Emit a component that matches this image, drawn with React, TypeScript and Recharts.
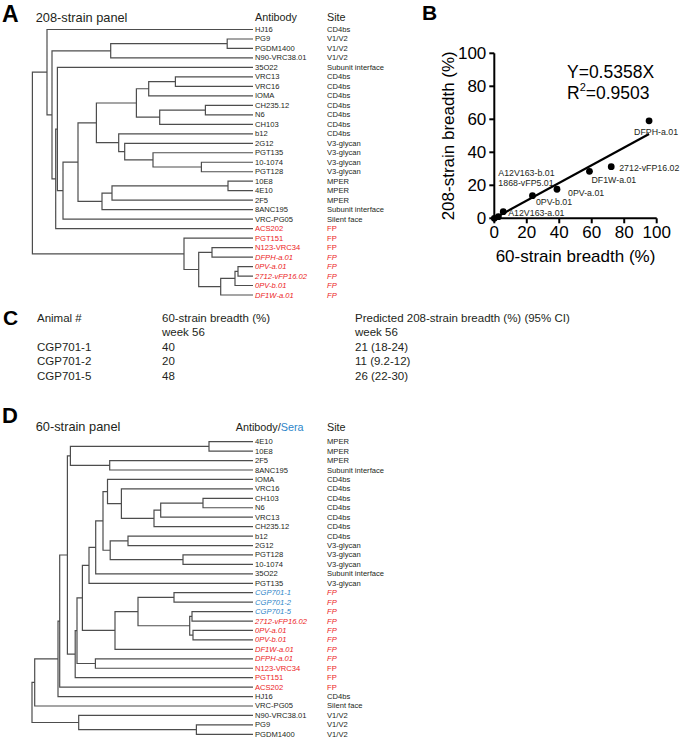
import React, { useMemo } from "react";
import { LineChart, Line, XAxis, YAxis, ScatterChart, Scatter } from "recharts";

const FONT = '"Liberation Sans", Arial, Helvetica, sans-serif';
const INK = "#231f20";
const RED = "#ec1c24";
const BLUE = "#2e86c9";
const BRANCH = "#4d4d4d";

// vaccine-elicited antibodies (italic) and sera (blue)
const vaccineAbs = ["DFPH-a.01", "0PV-a.01", "2712-vFP16.02", "0PV-b.01", "DF1W-a.01"];
const sera = ["CGP701-1", "CGP701-2", "CGP701-5"];

// ---- A: 208-strain panel, leaves top to bottom
const leavesA = [
  "HJ16", "PG9", "PGDM1400", "N90-VRC38.01", "35O22", "VRC13", "VRC16", "IOMA",
  "CH235.12", "N6", "CH103", "b12", "2G12", "PGT135", "10-1074", "PGT128",
  "10E8", "4E10", "2F5", "8ANC195", "VRC-PG05", "ACS202", "PGT151", "N123-VRC34",
  "DFPH-a.01", "0PV-a.01", "2712-vFP16.02", "0PV-b.01", "DF1W-a.01",
];
const sitesA = [
  "CD4bs", "V1/V2", "V1/V2", "V1/V2", "Subunit interface", "CD4bs", "CD4bs", "CD4bs",
  "CD4bs", "CD4bs", "CD4bs", "CD4bs", "V3-glycan", "V3-glycan", "V3-glycan", "V3-glycan",
  "MPER", "MPER", "MPER", "Subunit interface", "Silent face", "FP", "FP", "FP",
  "FP", "FP", "FP", "FP", "FP",
];
// [child, child, distance]; "m<k>" = k-th merge
const mergesA: [string, string, number][] = [
  ["PG9", "PGDM1400", 25.8],
  ["m0", "N90-VRC38.01", 142.3],
  ["VRC13", "VRC16", 77.6],
  ["m2", "IOMA", 104.3],
  ["CH235.12", "N6", 47.6],
  ["m4", "CH103", 93.3],
  ["m3", "m5", 116.6],
  ["10-1074", "PGT128", 51.6],
  ["PGT135", "m7", 100],
  ["2G12", "m8", 128.3],
  ["b12", "m9", 134.3],
  ["m6", "m10", 156.6],
  ["10E8", "4E10", 25],
  ["m12", "2F5", 141],
  ["m13", "8ANC195", 151],
  ["m11", "m14", 175],
  ["m15", "VRC-PG05", 190],
  ["35O22", "m16", 195.6],
  ["m17", "ACS202", 197.3],
  ["m1", "m18", 201],
  ["HJ16", "m19", 206],
  ["0PV-a.01", "2712-vFP16.02", 15],
  ["m21", "0PV-b.01", 18],
  ["m22", "DF1W-a.01", 32.3],
  ["N123-VRC34", "DFPH-a.01", 41],
  ["m24", "m23", 54.3],
  ["PGT151", "m25", 69],
  ["m20", "m26", 220.6],
];

// ---- D: 60-strain panel
const leavesD = [
  "4E10", "10E8", "2F5", "8ANC195", "IOMA", "VRC16", "CH103", "N6",
  "VRC13", "CH235.12", "b12", "2G12", "PGT128", "10-1074", "35O22", "PGT135",
  "CGP701-1", "CGP701-2", "CGP701-5", "2712-vFP16.02", "0PV-a.01", "0PV-b.01", "DF1W-a.01", "DFPH-a.01",
  "N123-VRC34", "PGT151", "ACS202", "HJ16", "VRC-PG05", "N90-VRC38.01", "PG9", "PGDM1400",
];
const sitesD = [
  "MPER", "MPER", "MPER", "Subunit interface", "CD4bs", "CD4bs", "CD4bs", "CD4bs",
  "CD4bs", "CD4bs", "CD4bs", "V3-glycan", "V3-glycan", "V3-glycan", "Subunit interface", "V3-glycan",
  "FP", "FP", "FP", "FP", "FP", "FP", "FP", "FP",
  "FP", "FP", "FP", "CD4bs", "Silent face", "V1/V2", "V1/V2", "V1/V2",
];
const mergesD: [string, string, number][] = [
  ["4E10", "10E8", 44],
  ["2F5", "8ANC195", 143.3],
  ["m0", "m1", 182.6],
  ["CH103", "N6", 50],
  ["m3", "VRC13", 92.3],
  ["m4", "CH235.12", 99],
  ["VRC16", "m5", 131.6],
  ["IOMA", "m6", 145.5],
  ["b12", "2G12", 125],
  ["PGT128", "10-1074", 70],
  ["m8", "m9", 142.8],
  ["m7", "m10", 150],
  ["m11", "35O22", 157.3],
  ["m12", "PGT135", 164],
  ["CGP701-1", "CGP701-2", 79],
  ["CGP701-5", "2712-vFP16.02", 61],
  ["0PV-a.01", "0PV-b.01", 60],
  ["m15", "m16", 63.3],
  ["m14", "m17", 115],
  ["m18", "DF1W-a.01", 138],
  ["m13", "m19", 170.6],
  ["DFPH-a.01", "N123-VRC34", 157.6],
  ["m20", "m21", 176],
  ["m22", "PGT151", 177.8],
  ["m2", "m23", 185.6],
  ["m24", "ACS202", 193.3],
  ["m25", "HJ16", 195],
  ["m26", "VRC-PG05", 218.3],
  ["PG9", "PGDM1400", 56.6],
  ["N90-VRC38.01", "m28", 174.3],
  ["m27", "m29", 221],
];

// ---- B: breadth correlation
const bnabNames = ["DFPH-a.01", "2712-vFP16.02", "DF1W-a.01", "0PV-a.01", "0PV-b.01", "A12V163-a.01", "A12V163-b.01", "1868-vFP5.01"];
const breadth60 = [95.3, 72, 58.6, 38.6, 23.5, 5.5, 0, 2.5];
const breadth208 = [59.1, 31.3, 28.5, 17.6, 13.7, 4, 0, 1];
const fitSlope = 0.5358;
const fitR2 = 0.9503;
const breadthTicks = [0, 20, 40, 60, 80, 100];

// ---- C: table
const animals = ["CGP701-1", "CGP701-2", "CGP701-5"];
const sera60 = [40, 20, 48];
const pred208 = [21, 11, 26];
const predLow = [18, 9.2, 22];
const predHigh = [24, 12, 30];

// label offsets (px) from each point in B
const labelOffset: Record<string, [number, number]> = {
  "DFPH-a.01": [-15, 11],
  "2712-vFP16.02": [8, 1.6],
  "DF1W-a.01": [2, 8.7],
  "0PV-a.01": [11, 4],
  "0PV-b.01": [3.5, 6],
  "A12V163-a.01": [5, 1.6],
  "A12V163-b.01": [4, -45],
  "1868-vFP5.01": [0, -33.4],
};

function treeSegments(leaves: string[], merges: [string, string, number][]) {
  const pos: Record<string, { x: number; y: number }> = {};
  leaves.forEach((n, i) => (pos[n] = { x: 0, y: i }));
  const pts: { x: number; y: number | null }[] = [];
  merges.forEach(([a, b, h], k) => {
    const pa = pos[a];
    const pb = pos[b];
    pts.push({ x: pa.x, y: pa.y }, { x: h, y: pa.y }, { x: h, y: pb.y }, { x: pb.x, y: pb.y }, { x: h, y: null });
    pos["m" + k] = { x: h, y: (pa.y + pb.y) / 2 };
  });
  return pts;
}

const LeafTick = (props: any) => {
  const { x, y, payload, leaves, sites } = props;
  const name = leaves[payload.value];
  const site = sites[payload.value];
  const isSera = sera.includes(name);
  const italic = isSera || vaccineAbs.includes(name);
  const fp = site === "FP";
  return (
    <g fontFamily={FONT} fontSize={7.6} fontStyle={italic ? "italic" : "normal"}>
      <text x={x} y={y} dominantBaseline="central" fill={isSera ? BLUE : fp ? RED : INK}>
        {name}
      </text>
      <text x={x + 72} y={y} dominantBaseline="central" fill={fp ? RED : INK}>
        {site}
      </text>
    </g>
  );
};

function Dendrogram({ leaves, sites, merges, height, top, bottom }: any) {
  const data = useMemo(() => treeSegments(leaves, merges), [leaves, merges]);
  const ticks = leaves.map((_: string, i: number) => i);
  return (
    <LineChart width={400} height={height} data={data} margin={{ top, right: 0, bottom, left: 30 }}>
      <XAxis type="number" dataKey="x" domain={[0, 223]} reversed hide />
      <YAxis
        type="number"
        orientation="right"
        domain={[0, leaves.length - 1]}
        reversed
        ticks={ticks}
        interval={0}
        width={147}
        axisLine={false}
        tickLine={false}
        tickSize={0}
        tickMargin={2}
        tick={(p: any) => <LeafTick {...p} leaves={leaves} sites={sites} />}
      />
      <Line
        dataKey="y"
        stroke={BRANCH}
        strokeWidth={1.2}
        dot={false}
        activeDot={false}
        connectNulls={false}
        isAnimationActive={false}
      />
    </LineChart>
  );
}

const PointShape = (props: any) => {
  const { cx, cy, payload } = props;
  const off = labelOffset[payload.name] || [5, 0];
  return (
    <g>
      <circle cx={cx} cy={cy} r={3.4} fill="#000" />
      <text x={cx + off[0]} y={cy + off[1]} dominantBaseline="central" fontSize={8.8} fontFamily={FONT} fill={INK}>
        {payload.name}
      </text>
    </g>
  );
};

function BreadthScatter() {
  const points = bnabNames.map((name, i) => ({ name, x: breadth60[i], y: breadth208[i] }));
  const maxX = Math.max(...breadth60);
  const fitLine = [0, maxX].map((x) => ({ x, y: fitSlope * x }));
  const axisStyle = { stroke: "#000", strokeWidth: 2 };
  const tickStyle = { fill: "#000", fontSize: 17, fontFamily: FONT };
  return (
    <ScatterChart width={280} height={250} margin={{ top: 23.3, right: 23.3, bottom: 0, left: 0 }}>
      <XAxis
        type="number"
        dataKey="x"
        domain={[0, 100]}
        ticks={breadthTicks}
        interval={0}
        height={61.7}
        tickSize={5}
        tickMargin={3}
        axisLine={axisStyle}
        tickLine={axisStyle}
        tick={tickStyle}
        label={(p: any) => (
          <text
            x={p.viewBox.x + p.viewBox.width / 2}
            y={p.viewBox.y + 38.4}
            textAnchor="middle"
            dominantBaseline="central"
            fontSize={17}
            fontFamily={FONT}
            fill="#000"
          >
            60-strain breadth (%)
          </text>
        )}
      />
      <YAxis
        type="number"
        dataKey="y"
        domain={[0, 100]}
        ticks={breadthTicks}
        interval={0}
        width={94.3}
        tickSize={5}
        tickMargin={3}
        axisLine={axisStyle}
        tickLine={axisStyle}
        tick={tickStyle}
        label={(p: any) => {
          const cx = p.viewBox.x + 48.3;
          const cy = p.viewBox.y + p.viewBox.height / 2;
          return (
            <text
              x={cx}
              y={cy}
              transform={`rotate(-90 ${cx} ${cy})`}
              textAnchor="middle"
              dominantBaseline="central"
              fontSize={17}
              fontFamily={FONT}
              fill="#000"
            >
              208-strain breadth (%)
            </text>
          );
        }}
      />
      <Scatter data={fitLine} line={{ stroke: "#000", strokeWidth: 2.2 }} shape={() => <g />} isAnimationActive={false} />
      <Scatter data={points} shape={PointShape} isAnimationActive={false} />
    </ScatterChart>
  );
}

export default function App() {
  const rowY = [346.5, 361, 375.5];
  return (
    <div style={{ position: "absolute", left: 0, top: 0, width: 680, height: 740, background: "#fff", fontFamily: FONT }}>
      <div style={{ position: "absolute", left: 0, top: 0 }}>
        <Dendrogram leaves={leavesA} sites={sitesA} merges={mergesA} height={305} top={29.5} bottom={10} />
      </div>
      <div style={{ position: "absolute", left: 0, top: 400 }}>
        <Dendrogram leaves={leavesD} sites={sitesD} merges={mergesD} height={340} top={41.7} bottom={5.7} />
      </div>
      <div style={{ position: "absolute", left: 400, top: 30 }}>
        <BreadthScatter />
      </div>
      <svg width={680} height={740} style={{ position: "absolute", left: 0, top: 0, pointerEvents: "none" }} fontFamily={FONT} fill={INK}>
        {/* A headers */}
        <text x={2} y={21.7} fontSize={23} fontWeight="bold" fill="#000">A</text>
        <text x={35.7} y={21.5} fontSize={12.8}>208-strain panel</text>
        <text x={255} y={20.5} fontSize={10.8}>Antibody</text>
        <text x={327} y={20.5} fontSize={10.8}>Site</text>

        {/* B */}
        <text x={422} y={20} fontSize={21} fontWeight="bold" fill="#000">B</text>
        <text x={567} y={77.7} fontSize={17.5} fill="#000">{`Y=${fitSlope}X`}</text>
        <text x={567} y={99.3} fontSize={17.5} fill="#000">
          R<tspan fontSize={11} dy={-8}>2</tspan>
          <tspan dy={8}>{`=${fitR2}`}</tspan>
        </text>

        {/* C */}
        <text x={3} y={325} fontSize={21} fontWeight="bold" fill="#000">C</text>
        <g fontSize={11.5}>
          <text x={37} y={318} dominantBaseline="central">Animal #</text>
          <text x={162} y={318} dominantBaseline="central">60-strain breadth (%)</text>
          <text x={355} y={318} dominantBaseline="central">Predicted 208-strain breadth (%) (95% CI)</text>
          <text x={162} y={332} dominantBaseline="central">week 56</text>
          <text x={355} y={332} dominantBaseline="central">week 56</text>
          {animals.map((a, i) => (
            <g key={a}>
              <text x={37} y={rowY[i]} dominantBaseline="central">{a}</text>
              <text x={162} y={rowY[i]} dominantBaseline="central">{sera60[i]}</text>
              <text x={355} y={rowY[i]} dominantBaseline="central">{`${pred208[i]} (${predLow[i]}-${predHigh[i]})`}</text>
            </g>
          ))}
        </g>

        {/* D headers */}
        <text x={2} y={423.3} fontSize={22} fontWeight="bold" fill="#000">D</text>
        <text x={35.7} y={431} fontSize={12.8}>60-strain panel</text>
        <text x={235.7} y={430.5} fontSize={10.8}>
          Antibody/<tspan fill={BLUE}>Sera</tspan>
        </text>
        <text x={327} y={430.5} fontSize={10.8}>Site</text>
      </svg>
    </div>
  );
}
